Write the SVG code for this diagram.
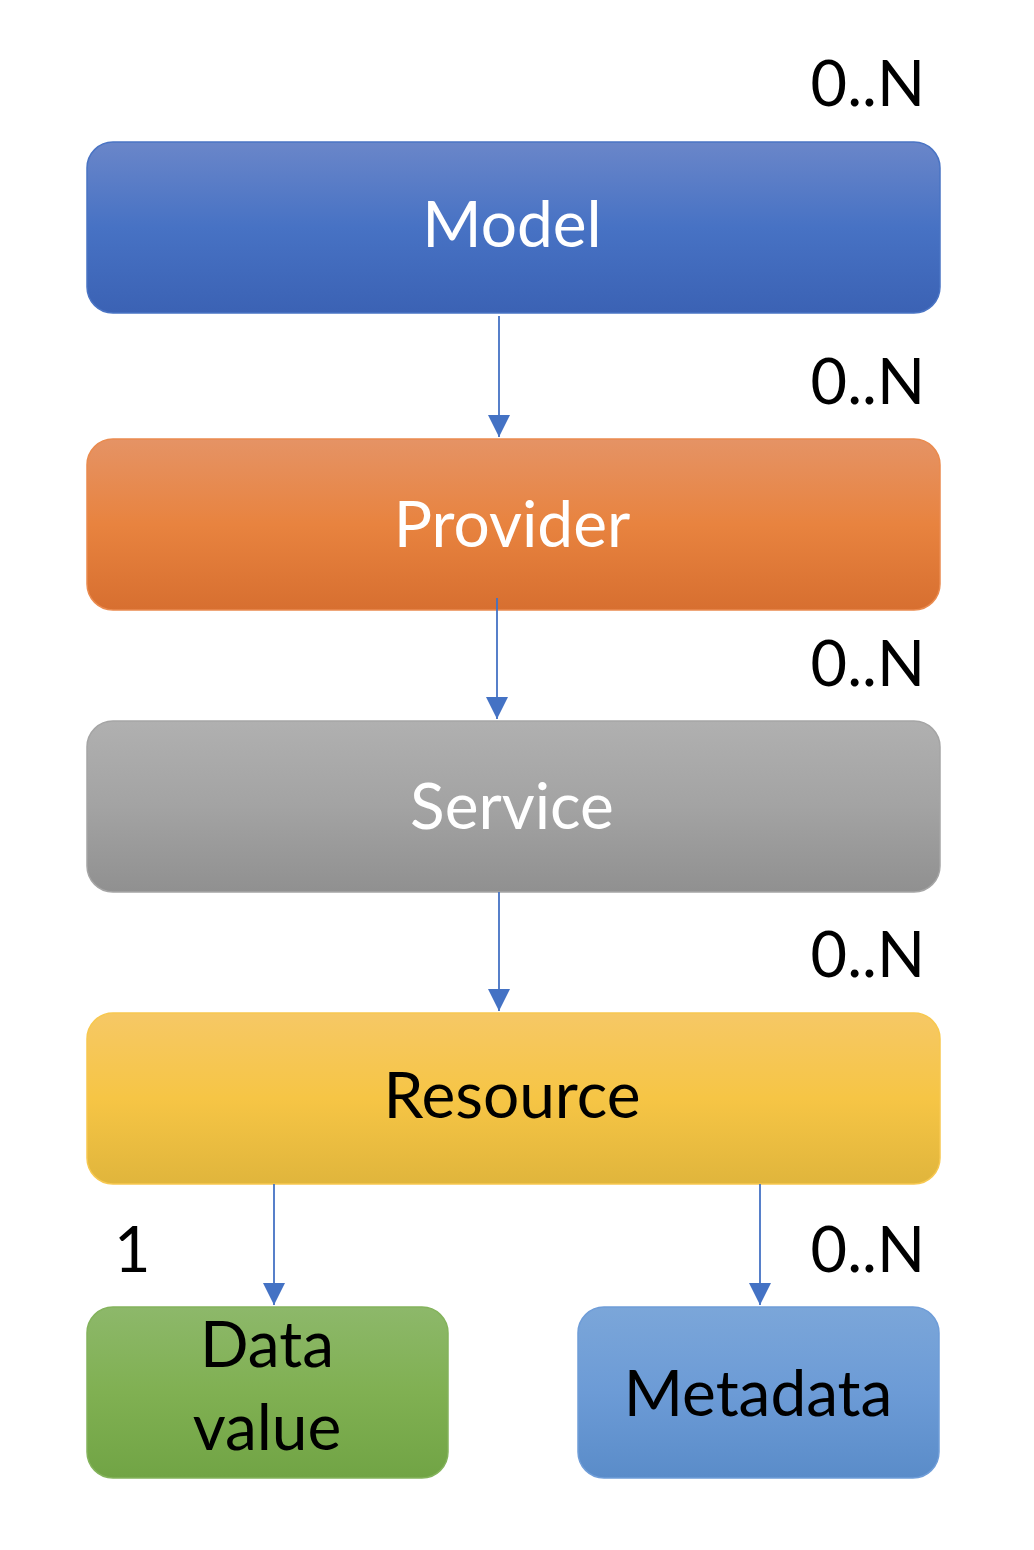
<svg xmlns="http://www.w3.org/2000/svg" width="1034" height="1550" viewBox="0 0 1034 1550">
<style>
.box{stroke-width:1.5}
.lbl{font-family:Lato,"Open Sans","Liberation Sans",sans-serif;font-size:64px;text-anchor:middle}
.mult{font-family:Lato,"Open Sans","Liberation Sans",sans-serif;font-size:63px;fill:#000}
.conn{stroke:#4472c4;stroke-width:1.8;fill:none}
</style>
<defs>
<linearGradient id="gBlue" x1="0" y1="0" x2="0" y2="1"><stop offset="0" stop-color="#6a86c9"/><stop offset="0.5" stop-color="#4772c4"/><stop offset="1" stop-color="#3b62b4"/></linearGradient>
<linearGradient id="gOrange" x1="0" y1="0" x2="0" y2="1"><stop offset="0" stop-color="#e59365"/><stop offset="0.5" stop-color="#e8833f"/><stop offset="1" stop-color="#d76f30"/></linearGradient>
<linearGradient id="gGray" x1="0" y1="0" x2="0" y2="1"><stop offset="0" stop-color="#b0b0b0"/><stop offset="0.5" stop-color="#a3a3a3"/><stop offset="1" stop-color="#909090"/></linearGradient>
<linearGradient id="gYellow" x1="0" y1="0" x2="0" y2="1"><stop offset="0" stop-color="#f6c865"/><stop offset="0.5" stop-color="#f6c545"/><stop offset="1" stop-color="#e0b53c"/></linearGradient>
<linearGradient id="gGreen" x1="0" y1="0" x2="0" y2="1"><stop offset="0" stop-color="#8db86a"/><stop offset="0.5" stop-color="#80b052"/><stop offset="1" stop-color="#71a445"/></linearGradient>
<linearGradient id="gLBlue" x1="0" y1="0" x2="0" y2="1"><stop offset="0" stop-color="#7ba6d9"/><stop offset="0.5" stop-color="#6c9bd6"/><stop offset="1" stop-color="#5a8cc9"/></linearGradient>
<marker id="arr" markerWidth="22" markerHeight="22" refX="22" refY="11" orient="auto" markerUnits="userSpaceOnUse" viewBox="0 0 22 22">
<path d="M0,0 L22,11 L0,22 Z" fill="#4472c4"/>
</marker>
</defs>

<g id="model">
<rect class="box" x="87" y="142" width="853" height="171" rx="26" fill="url(#gBlue)" stroke="#4a74c4"/>
<text class="lbl" x="512" y="247" fill="#fff">Model</text>
</g>
<g id="provider">
<rect class="box" x="87" y="439" width="853" height="171" rx="26" fill="url(#gOrange)" stroke="#ea8b4f"/>
<text class="lbl" x="512" y="547" fill="#fff">Provider</text>
</g>
<g id="service">
<rect class="box" x="87" y="721" width="853" height="171" rx="26" fill="url(#gGray)" stroke="#a5a5a5"/>
<text class="lbl" x="512" y="829" fill="#fff">Service</text>
</g>
<g id="resource">
<rect class="box" x="87" y="1013" width="853" height="171" rx="26" fill="url(#gYellow)" stroke="#f7c850"/>
<text class="lbl" x="512" y="1118" fill="#000">Resource</text>
</g>
<g id="datavalue">
<rect class="box" x="87" y="1307" width="361" height="171" rx="26" fill="url(#gGreen)" stroke="#84b35c"/>
<text class="lbl" x="267" y="1367" fill="#000">Data</text>
<text class="lbl" x="267" y="1450" fill="#000">value</text>
</g>
<g id="metadata">
<rect class="box" x="578" y="1307" width="361" height="171" rx="26" fill="url(#gLBlue)" stroke="#6f9dd8"/>
<text class="lbl" x="758" y="1416" fill="#000">Metadata</text>
</g>

<g id="connectors">
<line class="conn" x1="499" y1="316" x2="499" y2="437" marker-end="url(#arr)"/>
<line class="conn" x1="497" y1="598" x2="497" y2="719" marker-end="url(#arr)"/>
<line class="conn" x1="499" y1="892" x2="499" y2="1011" marker-end="url(#arr)"/>
<line class="conn" x1="274" y1="1184" x2="274" y2="1305" marker-end="url(#arr)"/>
<line class="conn" x1="760" y1="1184" x2="760" y2="1305" marker-end="url(#arr)"/>
</g>

<g id="multiplicities">
<text class="mult" x="925" y="106" text-anchor="end">0..N</text>
<text class="mult" x="925" y="404" text-anchor="end">0..N</text>
<text class="mult" x="925" y="686" text-anchor="end">0..N</text>
<text class="mult" x="925" y="977" text-anchor="end">0..N</text>
<text class="mult" x="925" y="1272" text-anchor="end">0..N</text>
<text class="mult" x="114" y="1272">1</text>
</g>
</svg>
